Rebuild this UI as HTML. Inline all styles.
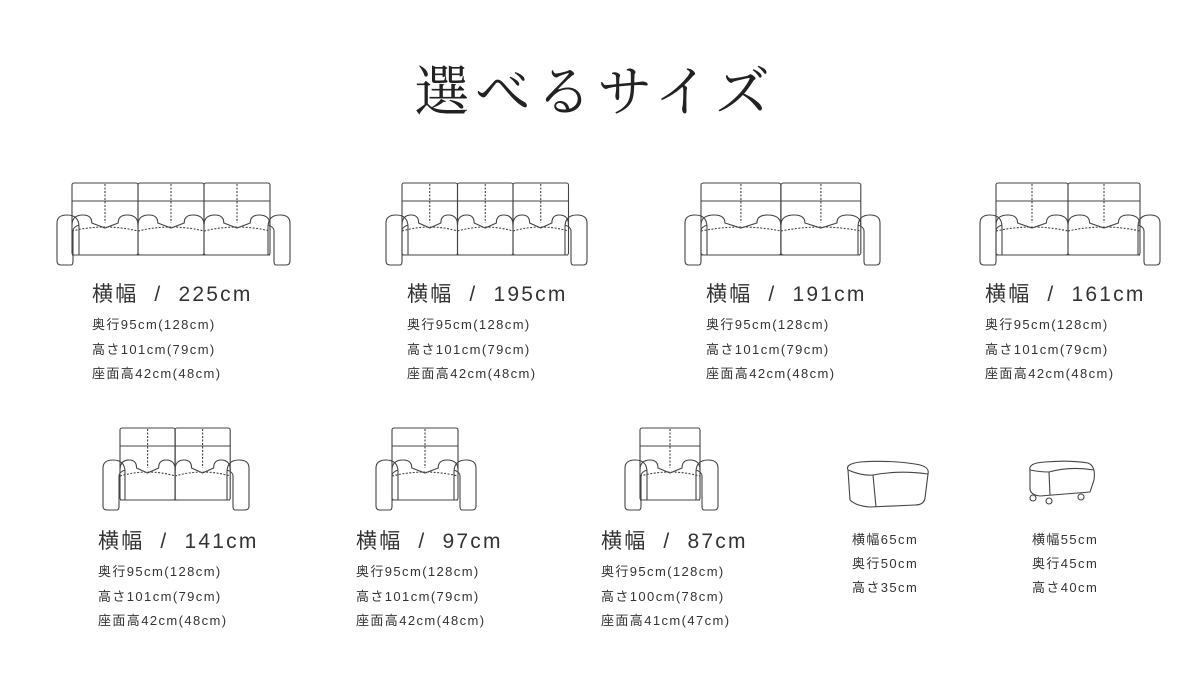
<!DOCTYPE html>
<html><head><meta charset="utf-8"><style>
body{margin:0;background:#fff;width:1200px;height:700px;overflow:hidden;position:relative;font-family:"Liberation Sans","Noto Sans CJK JP",sans-serif;color:#333}
.t{position:absolute;left:0;top:58px;width:1190px;text-align:center;font-family:"Liberation Serif","Noto Serif CJK SC",serif;font-size:55px;letter-spacing:6px;color:#222;line-height:70px}
.w{position:absolute;font-size:21px;letter-spacing:2.2px;word-spacing:8px;color:#333;white-space:nowrap}
.s{position:absolute;font-size:13px;letter-spacing:1.4px;line-height:24.5px;color:#333;white-space:nowrap}
svg{position:absolute;left:0;top:0}
</style></head><body>
<div class="t">選べるサイズ</div>
<svg width="1200" height="700" fill="none" stroke="#444" stroke-width="1.1">
<defs>
<g id="seat">
<rect x="0" y="0" width="60" height="72" rx="2" vector-effect="non-scaling-stroke"/>
<line x1="0" y1="18" x2="60" y2="18" vector-effect="non-scaling-stroke"/>
<line x1="30" y1="1" x2="30" y2="40" stroke-dasharray="2 1.5" vector-effect="non-scaling-stroke"/>
<path d="M0,42 Q0,32 10,32 Q18,32 18,40 L30,45 L42,40 Q42,32 50,32 Q60,32 60,42" vector-effect="non-scaling-stroke"/>
<path d="M0,48 Q30,40 60,48" stroke-dasharray="2 1.5" vector-effect="non-scaling-stroke"/>
</g>
<g id="armL"><path d="M22,72 V44 Q22,32 10,32 Q0,32 0,40 V78 Q0,82 4,82 H14 Q16,82 16,78 V48 Q16,44 22,42"/></g>
<g id="armR"><path d="M0,72 V44 Q0,32 12,32 Q22,32 22,40 V78 Q22,82 18,82 H8 Q6,82 6,78 V48 Q6,44 0,42"/></g>
</defs>
<g transform="translate(72,183)"><use href="#seat" transform="scale(1.1,1)"/><use href="#seat" transform="translate(66,0) scale(1.1,1)"/><use href="#seat" transform="translate(132,0) scale(1.1,1)"/></g>
<use href="#armL" x="57" y="183"/><use href="#armR" x="268" y="183"/><line x1="72" y1="255" x2="270" y2="255"/>
<g transform="translate(402,183)"><use href="#seat" transform="scale(0.925,1)"/><use href="#seat" transform="translate(55.5,0) scale(0.925,1)"/><use href="#seat" transform="translate(111,0) scale(0.925,1)"/></g>
<use href="#armL" x="386" y="183"/><use href="#armR" x="565" y="183"/><line x1="402" y1="255" x2="568" y2="255"/>
<g transform="translate(701,183)"><use href="#seat" transform="scale(1.33,1)"/><use href="#seat" transform="translate(80,0) scale(1.33,1)"/></g>
<use href="#armL" x="685" y="183"/><use href="#armR" x="858" y="183"/><line x1="701" y1="255" x2="860" y2="255"/>
<g transform="translate(996,183)"><use href="#seat" transform="scale(1.2,1)"/><use href="#seat" transform="translate(72,0) scale(1.2,1)"/></g>
<use href="#armL" x="980" y="183"/><use href="#armR" x="1138" y="183"/><line x1="996" y1="255" x2="1140" y2="255"/>
<g transform="translate(120,428)"><use href="#seat" transform="scale(0.92,1)"/><use href="#seat" transform="translate(55,0) scale(0.92,1)"/></g>
<use href="#armL" x="103" y="428"/><use href="#armR" x="227" y="428"/><line x1="120" y1="500" x2="230" y2="500"/>
<g transform="translate(392,428)"><use href="#seat" transform="scale(1.1,1)"/></g>
<use href="#armL" x="376" y="428"/><use href="#armR" x="454" y="428"/><line x1="392" y1="500" x2="458" y2="500"/>
<g transform="translate(640,428)"><use href="#seat"/></g>
<use href="#armL" x="625" y="428"/><use href="#armR" x="696" y="428"/><line x1="640" y1="500" x2="700" y2="500"/>
<path d="M848,470 Q845,464 860,462 Q890,460 915,464 Q930,466 928,474 L925,498 Q924,505 915,505 L870,507 Q856,506 850,500 Z"/>
<path d="M848,470 Q862,476 873,475 L876,507"/><path d="M873,475 Q900,470 928,474"/>
<path d="M1030,470 Q1028,463 1045,462 Q1070,460 1088,463 Q1096,466 1094,480 L1090,492 L1040,496 Q1030,495 1030,488 Z"/>
<path d="M1030,470 Q1040,472 1049,472 L1050,495"/><path d="M1049,472 Q1070,466 1094,470"/>
<circle cx="1033" cy="498" r="3"/><circle cx="1049" cy="501" r="3"/><circle cx="1081" cy="497" r="3"/>
</svg>
<div class="w" style="left:92px;top:278px">横幅 / 225cm</div>
<div class="s" style="left:92px;top:313px">奥行95cm(128cm)<br>高さ101cm(79cm)<br>座面高42cm(48cm)</div>
<div class="w" style="left:407px;top:278px">横幅 / 195cm</div>
<div class="s" style="left:407px;top:313px">奥行95cm(128cm)<br>高さ101cm(79cm)<br>座面高42cm(48cm)</div>
<div class="w" style="left:706px;top:278px">横幅 / 191cm</div>
<div class="s" style="left:706px;top:313px">奥行95cm(128cm)<br>高さ101cm(79cm)<br>座面高42cm(48cm)</div>
<div class="w" style="left:985px;top:278px">横幅 / 161cm</div>
<div class="s" style="left:985px;top:313px">奥行95cm(128cm)<br>高さ101cm(79cm)<br>座面高42cm(48cm)</div>
<div class="w" style="left:98px;top:525px">横幅 / 141cm</div>
<div class="s" style="left:98px;top:560px">奥行95cm(128cm)<br>高さ101cm(79cm)<br>座面高42cm(48cm)</div>
<div class="w" style="left:356px;top:525px">横幅 / 97cm</div>
<div class="s" style="left:356px;top:560px">奥行95cm(128cm)<br>高さ101cm(79cm)<br>座面高42cm(48cm)</div>
<div class="w" style="left:601px;top:525px">横幅 / 87cm</div>
<div class="s" style="left:601px;top:560px">奥行95cm(128cm)<br>高さ100cm(78cm)<br>座面高41cm(47cm)</div>
<div class="s" style="left:852px;top:528px;line-height:24px">横幅65cm<br>奥行50cm<br>高さ35cm</div>
<div class="s" style="left:1032px;top:528px;line-height:24px">横幅55cm<br>奥行45cm<br>高さ40cm</div>
</body></html>
